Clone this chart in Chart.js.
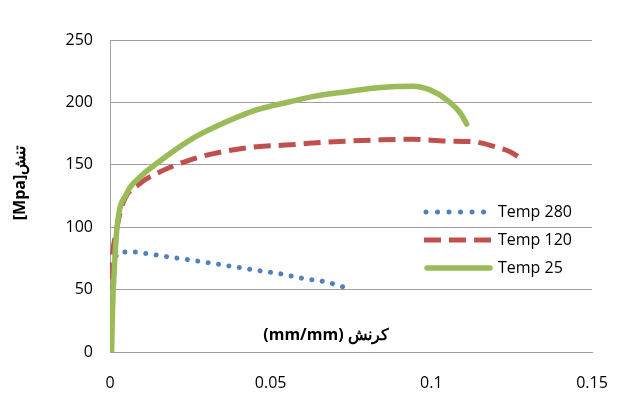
<!DOCTYPE html>
<html><head><meta charset="utf-8">
<script src="https://cdn.jsdelivr.net/npm/chart.js@4/dist/chart.umd.min.js"></script>
<style>html,body{margin:0;padding:0;background:#fff}#wrap{width:624px;height:403px}</style>
</head><body><div id="wrap"><canvas id="c" width="624" height="403"></canvas></div>
<script>
const seriesNames = ['Temp 280', 'Temp 120', 'Temp 25'];
const strain280 = [0.0002, 0.001, 0.0025, 0.004, 0.0062, 0.0124, 0.0187, 0.025, 0.032, 0.0394, 0.0467, 0.0534, 0.060, 0.0674, 0.074];
const stress280 = [35, 65, 79, 80, 80.3, 78.5, 76, 73.7, 71, 68, 65, 62.5, 59, 56, 51];
const strain120 = [0.0004, 0.0008, 0.0016, 0.004, 0.0093, 0.0145, 0.025, 0.035, 0.0457, 0.056, 0.063, 0.0737, 0.084, 0.094, 0.1048, 0.113, 0.1192, 0.1245, 0.1285];
const stress120 = [58, 78, 92, 119, 135, 143, 154, 160.5, 164.5, 166, 167.5, 169, 170, 170.5, 169, 168.5, 165, 160.5, 154];
const strain25 = [0.0005, 0.0008, 0.0012, 0.0022, 0.0052, 0.0093, 0.0145, 0.025, 0.035, 0.0456, 0.056, 0.063, 0.0737, 0.084, 0.0943, 0.0996, 0.1048, 0.109, 0.111];
const stress25 = [0, 35, 60, 100, 127, 140, 151, 170, 183, 194, 200.5, 204.6, 208.6, 212, 213, 210, 202, 191.5, 182.7];
const xTicks = [0, 0.05, 0.1, 0.15];
const xTickLabels = ['0', '0.05', '0.1', '0.15'];
const yTicks = [0, 50, 100, 150, 200, 250];
const xTitle = 'کرنش (mm/mm)';
const yTitle = '[Mpa]تنش';

const pts = (xs, ys) => xs.map((v, i) => ({x: v, y: ys[i]}));
const FONT = '"Open Sans", "Noto Sans", sans-serif';

const datasets = [
  {label: seriesNames[0], data: pts(strain280, stress280), borderColor: '#4f81bd', borderWidth: 5,
   borderDash: [0.01, 10.5], borderCapStyle: 'round', order: 2},
  {label: seriesNames[1], data: pts(strain120, stress120), borderColor: '#c0504d', borderWidth: 5,
   borderDash: [17, 8], borderCapStyle: 'butt', order: 1},
  {label: seriesNames[2], data: pts(strain25, stress25), borderColor: '#9bbb59', borderWidth: 5.5,
   borderCapStyle: 'round', order: 0}
].map(d => Object.assign(d, {showLine: true, pointRadius: 0, cubicInterpolationMode: 'monotone', fill: false}));

const annot = {
  id: 'annot',
  afterDraw(chart) {
    const ctx = chart.ctx;
    ctx.save();
    ctx.fillStyle = '#000';
    ctx.font = 'bold 16px ' + FONT;
    ctx.textAlign = 'center';
    ctx.textBaseline = 'middle';
    ctx.direction = 'rtl';
    ctx.fillText(xTitle, 326, 335);
    ctx.direction = 'ltr';
    ctx.translate(20, 183);
    ctx.rotate(-Math.PI / 2);
    ctx.fillText(yTitle, 0, 0);
    ctx.restore();

    // legend
    ctx.save();
    const rows = [212, 240, 268];
    datasets.forEach((d, i) => {
      const yy = rows[i];
      ctx.beginPath();
      ctx.strokeStyle = d.borderColor;
      ctx.lineWidth = d.borderWidth;
      ctx.lineCap = d.borderCapStyle;
      ctx.setLineDash(i === 0 ? [0.01, 11.5] : (d.borderDash || []));
      if (i === 1) { ctx.moveTo(424, yy); ctx.lineTo(493, yy); }
      else if (i === 0) { ctx.moveTo(426, yy); ctx.lineTo(488, yy); }
      else { ctx.moveTo(427, yy); ctx.lineTo(490, yy); }
      ctx.stroke();
      ctx.setLineDash([]);
      ctx.fillStyle = '#000';
      ctx.font = '16px ' + FONT;
      ctx.textAlign = 'left';
      ctx.textBaseline = 'middle';
      ctx.fillText(d.label, 498, yy);
    });
    ctx.restore();
  }
};

new Chart(document.getElementById('c'), {
  type: 'scatter',
  data: {datasets},
  options: {
    responsive: false,
    animation: false,
    devicePixelRatio: 1,
    layout: {padding: {left: 0, right: 32, top: 40, bottom: 0}},
    plugins: {legend: {display: false}, tooltip: {enabled: false}},
    scales: {
      x: {
        type: 'linear', min: 0, max: 0.15,
        afterBuildTicks: s => { s.ticks = xTicks.map(v => ({value: v})); },
        afterFit: s => { s.height = 51; s.paddingLeft = 0; s.paddingRight = 0; },
        ticks: {padding: 22, color: '#000', font: {family: FONT, size: 16},
                callback: (v) => xTickLabels[xTicks.indexOf(v)], maxRotation: 0},
        grid: {display: false, drawTicks: false},
        border: {display: true, color: '#a0a0a0', width: 1}
      },
      y: {
        type: 'linear', min: 0, max: 250,
        afterBuildTicks: s => { s.ticks = yTicks.map(v => ({value: v})); },
        afterFit: s => { s.width = 110; s.paddingTop = 0; s.paddingBottom = 0; },
        ticks: {padding: 17, color: '#000', font: {family: FONT, size: 16}},
        grid: {color: '#a0a0a0', lineWidth: 1, drawTicks: false},
        border: {display: true, color: '#a0a0a0', width: 1}
      }
    }
  },
  plugins: [annot]
});
</script></body></html>
